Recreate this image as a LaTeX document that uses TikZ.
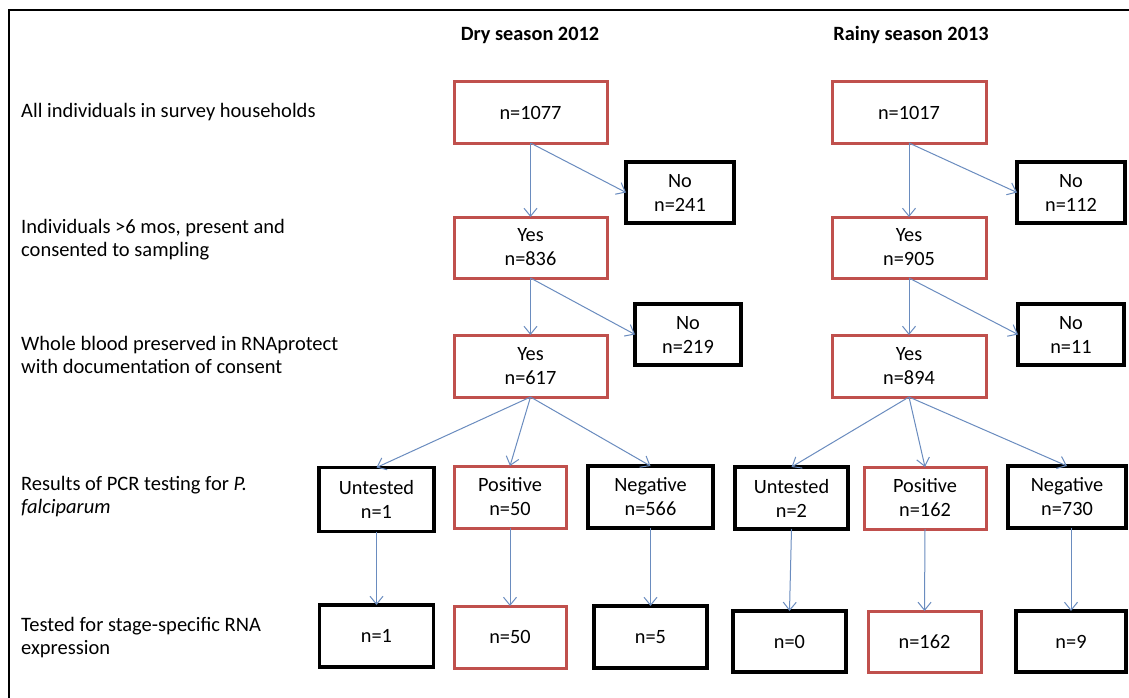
\documentclass[tikz,border=0pt]{standalone}
\usepackage{fontspec}
\setmainfont{Carlito}
\usetikzlibrary{arrows.meta}
\definecolor{boxred}{HTML}{C0504D}
\definecolor{arrowblue}{HTML}{6A8CBF}
\begin{document}
\begin{tikzpicture}[x=1pt,y=-1pt,
  font=\fontsize{20.3}{24}\selectfont,
  basebox/.style={align=center, inner sep=0pt, outer sep=0pt, fill=white},
  redbox/.style={basebox, draw=boxred, line width=3pt},
  blackbox/.style={basebox, draw=black, line width=3.6pt},
  boxsz/.style n args={2}{minimum width=#1pt, minimum height=#2pt},
  lbl/.style={align=left, anchor=west, inner sep=0pt, font=\fontsize{20.5}{23}\selectfont},
  head/.style={inner sep=0pt, font=\fontsize{20.3}{24}\selectfont\bfseries},
  arr/.style={draw=arrowblue, line width=1pt, -{Straight Barb[length=8pt,width=13pt]}}
]
\useasboundingbox (0,0) rectangle (1129,698);
\fill[white] (0,0) rectangle (1129,698);
% frame
\draw[line width=2.8pt] (9,705) -- (9,10) -- (1140,10);

% headings
\node[head] (hd) at (530,35) {Dry season 2012};
\node[head] (hr) at (911,35) {Rainy season 2013};

% left labels
\node[lbl] (l1) at (21,112) {All individuals in survey households};
\node[lbl] (l2) at (21,239.5) {Individuals >6 mos, present and\\consented to sampling};
\node[lbl] (l3) at (21,355) {Whole blood preserved in RNAprotect\\with documentation of consent};
\node[lbl] (l4) at (21,497) {Results of PCR testing for \textit{P.}\\\textit{falciparum}};
\node[lbl] (l5) at (21,638) {Tested for stage-specific RNA\\expression};

% dry season
\node[redbox, boxsz={153}{61}] (d0) at (530.5,112.5) {n=1077};
\node[blackbox, boxsz={108}{61}] (dno1) at (680,192.5) {No\\n=241};
\node[redbox, boxsz={153}{61}] (d1) at (530.5,247.5) {Yes\\n=836};
\node[blackbox, boxsz={106}{61}] (dno2) at (688,334.5) {No\\n=219};
\node[redbox, boxsz={153}{62}] (d2) at (530.5,366) {Yes\\n=617};
\node[blackbox, boxsz={115}{64}] (du) at (376.5,499.5) {Untested\\n=1};
\node[redbox, boxsz={112}{62}] (dp) at (510,497) {Positive\\n=50};
\node[blackbox, boxsz={125}{62}] (dn) at (650.5,497) {Negative\\n=566};
\node[blackbox, boxsz={114}{62}] (du2) at (376.5,636) {n=1};
\node[redbox, boxsz={112}{62}] (dp2) at (510,637) {n=50};
\node[blackbox, boxsz={113}{62}] (dn2) at (650.5,637) {n=5};

% rainy season
\node[redbox, boxsz={154}{61}] (r0) at (909,112.5) {n=1017};
\node[blackbox, boxsz={108}{61}] (rno1) at (1071,192.5) {No\\n=112};
\node[redbox, boxsz={154}{61}] (r1) at (909,247.5) {Yes\\n=905};
\node[blackbox, boxsz={106}{61}] (rno2) at (1071,334.5) {No\\n=11};
\node[redbox, boxsz={154}{62}] (r2) at (909,366) {Yes\\n=894};
\node[blackbox, boxsz={113}{62}] (ru) at (791.5,498) {Untested\\n=2};
\node[redbox, boxsz={122}{62}] (rp) at (925,498) {Positive\\n=162};
\node[blackbox, boxsz={118}{62}] (rn) at (1067,497) {Negative\\n=730};
\node[blackbox, boxsz={113}{61}] (ru2) at (789.5,641.5) {n=0};
\node[redbox, boxsz={113}{61}] (rp2) at (924.5,641.5) {n=162};
\node[blackbox, boxsz={110}{61}] (rn2) at (1071,641.5) {n=9};

% connectors dry
\draw[arr] (d0.south) -- (d1.north);
\draw[arr] (d0.south) -- (dno1.west);
\draw[arr] (d1.south) -- (d2.north);
\draw[arr] (d1.south) -- (dno2.west);
\draw[arr] (d2.south) -- (du.north);
\draw[arr] (d2.south) -- (dp.north);
\draw[arr] (d2.south) -- (dn.north);
\draw[arr] (du.south) -- (du2.north);
\draw[arr] (dp.south) -- (dp2.north);
\draw[arr] (dn.south) -- (dn2.north);

% connectors rainy
\draw[arr] (r0.south) -- (r1.north);
\draw[arr] (r0.south) -- (rno1.west);
\draw[arr] (r1.south) -- (r2.north);
\draw[arr] (r1.south) -- (rno2.west);
\draw[arr] (r2.south) -- (ru.north);
\draw[arr] (r2.south) -- (rp.north);
\draw[arr] (r2.south) -- (rn.north);
\draw[arr] (ru.south) -- (ru2.north);
\draw[arr] (rp.south) -- (rp2.north);
\draw[arr] (rn2.north |- rn.south) -- (rn2.north);
\end{tikzpicture}
\end{document}
